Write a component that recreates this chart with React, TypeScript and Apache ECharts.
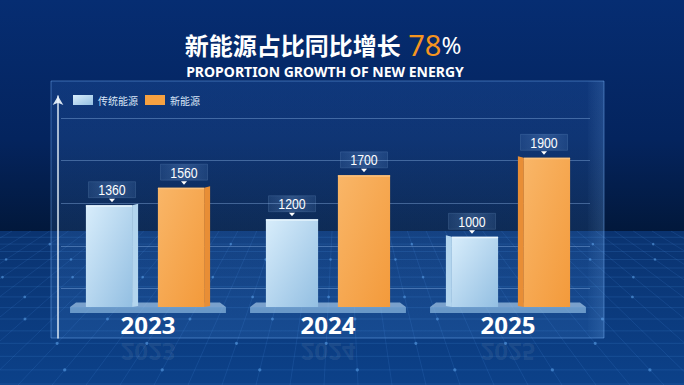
import React, { useEffect, useRef } from 'react';
import * as echarts from 'echarts';

// ---- data ----
const categories = ['2023', '2024', '2025'];
const seriesNames = ['传统能源', '新能源'];
const traditional = [1360, 1200, 1000];
const newEnergy = [1560, 1700, 1900];
const titleMain = '新能源占比同比增长';
const titleNumber = '78';
const titleUnit = '%';
const subtitle = 'PROPORTION GROWTH OF NEW ENERGY';

const Y_MIN = 200;
const Y_MAX = 2650;

const W = 684;
const H = 385;

const BLUE = {
  front: ['#d8edfb', '#93bfe2'],
  side: '#b3d5ee',
  top: '#e6f4fd',
};
const ORANGE = {
  front: ['#f9b668', '#f39a3b'],
  side: '#e88e36',
  top: '#fbc27e',
};

function barRender(si: number, pal: typeof BLUE) {
  return (params: any, api: any) => {
    const ci = api.value(0) as number;
    const v = api.value(1) as number;
    const top = api.coord([ci, v]);
    const base = api.coord([ci, Y_MIN]);
    const band = (api.size([1, 0]) as number[])[0];
    const barW = band * 0.29;
    const cx = base[0] + (si === 0 ? -1 : 1) * band * 0.2;
    const x0 = cx - barW / 2;
    const x1 = cx + barW / 2;
    const yT = top[1];
    const yB = base[1];
    const mid = (categories.length - 1) / 2;
    const side = ci < mid ? 1 : ci > mid ? -1 : 0;
    const d = 6;
    const children: any[] = [];
    let fx0 = x0;
    let fx1 = x1;
    if (side === 1) {
      fx1 = x1 - d;
      children.push({
        type: 'polygon',
        shape: { points: [[fx1, yT], [x1, yT - 1.5], [x1, yB - 1], [fx1, yB]] },
        style: { fill: pal.side },
      });
    } else if (side === -1) {
      fx0 = x0 + d;
      children.push({
        type: 'polygon',
        shape: { points: [[x0, yT - 1.5], [fx0, yT], [fx0, yB], [x0, yB - 1]] },
        style: { fill: pal.side },
      });
    }
    children.push({
      type: 'rect',
      shape: { x: fx0, y: yT, width: fx1 - fx0, height: yB - yT },
      style: {
        fill: new echarts.graphic.LinearGradient(0, 0, 1, 1, [
          { offset: 0, color: pal.front[0] },
          { offset: 1, color: pal.front[1] },
        ]),
      },
    });
    children.push({
      type: 'rect',
      shape: { x: fx0, y: yT, width: fx1 - fx0, height: 1.5 },
      style: { fill: pal.top },
    });
    // value label box
    const boxW = 47;
    const boxH = 16;
    const boxB = yT - 7.5;
    children.push({
      type: 'rect',
      shape: { x: cx - boxW / 2, y: boxB - boxH, width: boxW, height: boxH },
      style: {
        fill: new echarts.graphic.LinearGradient(0, 0, 1, 0, [
          { offset: 0, color: 'rgba(130,180,240,0.12)' },
          { offset: 0.5, color: 'rgba(150,195,250,0.24)' },
          { offset: 1, color: 'rgba(130,180,240,0.12)' },
        ]),
        stroke: 'rgba(170,210,255,0.14)',
        lineWidth: 1,
      },
    });
    children.push({
      type: 'text',
      x: cx,
      y: boxB - boxH / 2 + 0.5,
      scaleX: 0.82,
      style: {
        text: String(v),
        x: 0,
        y: 0,
        align: 'center',
        verticalAlign: 'middle',
        fill: '#ffffff',
        font: '15px "Liberation Sans", sans-serif',
      },
    });
    children.push({
      type: 'polygon',
      shape: { points: [[cx - 3, yT - 6.5], [cx + 3, yT - 6.5], [cx, yT - 3]] },
      style: { fill: '#ffffff' },
    });
    return { type: 'group', children };
  };
}

function platformRender(params: any, api: any) {
  const ci = api.value(0) as number;
  const base = api.coord([ci, Y_MIN]);
  const band = (api.size([1, 0]) as number[])[0];
  const hw = band * 0.433;
  const cx = base[0];
  const yB = base[1];
  return {
    type: 'group',
    children: [
      {
        type: 'polygon',
        shape: {
          points: [
            [cx - hw + 6, yB - 4.5],
            [cx + hw - 6, yB - 4.5],
            [cx + hw, yB],
            [cx - hw, yB],
          ],
        },
        style: { fill: 'rgba(190,222,247,0.6)' },
      },
      {
        type: 'rect',
        shape: { x: cx - hw, y: yB, width: hw * 2, height: 6 },
        style: { fill: 'rgba(150,195,232,0.65)' },
      },
      {
        type: 'text',
        x: cx,
        y: 352,
        scaleY: -1,
        style: {
          text: categories[ci],
          x: 0,
          y: 0,
          align: 'center',
          verticalAlign: 'middle',
          fill: 'rgba(255,255,255,0.08)',
          font: 'bold 24px "Noto Sans", sans-serif',
        },
      },
    ],
  };
}

function floorLines() {
  const els: any[] = [];
  const horizon = 231;
  const rows: number[] = [];
  for (let k = 1; k < 16; k++) {
    const y = horizon + 6 * k + 0.28 * k * k;
    if (y > H) break;
    rows.push(y);
    els.push({
      type: 'line',
      z: -9,
      shape: { x1: 0, y1: y, x2: W, y2: y },
      style: { stroke: 'rgba(90,160,245,0.16)', lineWidth: 1 },
    });
  }
  const vx = 342;
  const vy = 40;
  const t = (horizon - vy) / (H - vy);
  for (let xb = -900; xb <= 1600; xb += 34) {
    const xh = vx + (xb - vx) * t;
    els.push({
      type: 'line',
      z: -9,
      shape: { x1: xh, y1: horizon, x2: xb, y2: H },
      style: { stroke: 'rgba(90,160,245,0.13)', lineWidth: 1 },
    });
  }
  rows.forEach((y, ri) => {
    if (ri % 2 === 0) return;
    const s = (y - vy) / (H - vy);
    for (let xb = -900 + 34 * (ri % 4); xb <= 1600; xb += 102) {
      const x = vx + (xb - vx) * s;
      if (x < 0 || x > W) continue;
      els.push({
        type: 'circle',
        z: -8,
        shape: { cx: x, cy: y, r: 0.6 + s * 1.1 },
        style: { fill: 'rgba(110,185,255,0.45)' },
      });
    }
  });
  return els;
}

export default function App() {
  const ref = useRef<HTMLDivElement>(null);
  useEffect(() => {
    document.body.style.margin = '0';
    if (!ref.current) return;
    const chart = echarts.init(ref.current, null, { renderer: 'svg' });
    const option: any = {
      animation: false,
      backgroundColor: '#031c48',
      legend: {
        data: seriesNames,
        icon: 'rect',
        left: 68,
        top: 90,
        itemWidth: 20,
        itemHeight: 10,
        itemGap: 7,
        textStyle: { color: '#dbe7f7', fontSize: 10, fontFamily: '"Noto Sans CJK SC", sans-serif' },
      },
      grid: [
        { left: 58, right: W - 598, top: 92, bottom: H - 307 },
        { left: 61, right: W - 590, top: 118, bottom: H - 288.7 },
        { left: 58, right: W - 598, top: 96, bottom: H - 338 },
      ],
      xAxis: [
        {
          type: 'category',
          gridIndex: 0,
          data: categories,
          axisLine: { show: false },
          axisTick: { show: false },
          axisLabel: {
            color: '#ffffff',
            fontSize: 24,
            fontWeight: 'bold',
            fontFamily: '"Noto Sans", sans-serif',
            margin: 5,
          },
        },
        { type: 'value', gridIndex: 1, show: false, min: 0, max: 1 },
        { type: 'value', gridIndex: 2, show: false, min: 0, max: 1 },
      ],
      yAxis: [
        {
          type: 'value',
          gridIndex: 0,
          min: Y_MIN,
          max: Y_MAX,
          show: false,
        },
        {
          type: 'value',
          gridIndex: 1,
          min: 0,
          max: 4,
          interval: 1,
          axisLine: { show: false },
          axisTick: { show: false },
          axisLabel: { show: false },
          splitLine: { show: true, lineStyle: { color: 'rgba(150,190,240,0.38)', width: 1 } },
        },
        {
          type: 'value',
          gridIndex: 2,
          min: 0,
          max: 1,
          axisLine: {
            show: true,
            symbol: ['none', 'arrow'],
            symbolSize: [8, 9],
            lineStyle: { color: 'rgba(240,248,255,0.9)', width: 1.5 },
          },
          axisTick: { show: false },
          axisLabel: { show: false },
          splitLine: { show: false },
        },
      ],
      graphic: [
        {
          type: 'rect',
          z: -10,
          shape: { x: 0, y: 0, width: W, height: 232 },
          style: {
            fill: new echarts.graphic.LinearGradient(0, 0, 0, 1, [
              { offset: 0, color: '#062d72' },
              { offset: 0.6, color: '#04245e' },
              { offset: 1, color: '#02183b' },
            ]),
          },
        },
        {
          type: 'rect',
          z: -10,
          shape: { x: 0, y: 231, width: W, height: H - 231 },
          style: {
            fill: new echarts.graphic.LinearGradient(0, 0, 0, 1, [
              { offset: 0, color: '#0a3370' },
              { offset: 1, color: '#0c4189' },
            ]),
          },
        },
        ...floorLines(),
        {
          type: 'rect',
          z: -5,
          shape: { x: 51, y: 81, width: 553, height: 257 },
          style: {
            fill: new echarts.graphic.LinearGradient(0, 0, 0, 1, [
              { offset: 0, color: 'rgba(70,140,235,0.16)' },
              { offset: 1, color: 'rgba(90,160,240,0.14)' },
            ]),
            stroke: 'rgba(120,180,250,0.45)',
            lineWidth: 1,
          },
        },
        {
          type: 'rect',
          z: -4,
          shape: { x: 588, y: 81, width: 16, height: 257 },
          style: {
            fill: new echarts.graphic.LinearGradient(0, 0, 1, 0, [
              { offset: 0, color: 'rgba(140,195,255,0.02)' },
              { offset: 1, color: 'rgba(140,195,255,0.14)' },
            ]),
          },
        },
        {
          type: 'line',
          z: -4,
          shape: { x1: 51, y1: 81, x2: 604, y2: 81 },
          style: {
            stroke: new echarts.graphic.LinearGradient(0, 0, 1, 0, [
              { offset: 0, color: 'rgba(120,190,255,0.1)' },
              { offset: 0.5, color: 'rgba(150,210,255,0.9)' },
              { offset: 1, color: 'rgba(120,190,255,0.2)' },
            ]),
            lineWidth: 1.5,
          },
        },
        {
          type: 'text',
          z: 10,
          x: 323,
          y: 44,
          style: {
            text: `{a|${titleMain}}{b| ${titleNumber}}{c|${titleUnit}}`,
            align: 'center',
            verticalAlign: 'middle',
            rich: {
              a: {
                fill: '#ffffff',
                fontSize: 24,
                fontWeight: 'bold',
                lineHeight: 28,
                fontFamily: '"Noto Sans CJK SC", sans-serif',
              },
              b: {
                fill: '#f5951f',
                fontSize: 29,
                lineHeight: 28,
                fontFamily: '"Noto Sans", sans-serif',
              },
              c: {
                fill: '#ffffff',
                fontSize: 24,
                lineHeight: 28,
                fontFamily: '"Noto Sans", sans-serif',
              },
            },
          },
        },
        {
          type: 'text',
          z: 10,
          x: 325,
          y: 71,
          style: {
            text: subtitle,
            align: 'center',
            verticalAlign: 'middle',
            fill: '#ffffff',
            font: 'bold 14px "Noto Sans", "Open Sans", sans-serif',
          },
        },
      ],
      series: [
        {
          name: 'platform',
          type: 'custom',
          xAxisIndex: 0,
          yAxisIndex: 0,
          z: 2,
          silent: true,
          encode: { x: 0 },
          data: categories.map((_, i) => [i]),
          renderItem: platformRender,
        },
        {
          name: seriesNames[0],
          type: 'custom',
          xAxisIndex: 0,
          yAxisIndex: 0,
          z: 3,
          encode: { x: 0, y: 1 },
          itemStyle: {
            color: new echarts.graphic.LinearGradient(0, 0, 1, 1, [
              { offset: 0, color: BLUE.front[0] },
              { offset: 1, color: BLUE.front[1] },
            ]),
          },
          data: traditional.map((v, i) => [i, v]),
          renderItem: barRender(0, BLUE),
        },
        {
          name: seriesNames[1],
          type: 'custom',
          xAxisIndex: 0,
          yAxisIndex: 0,
          z: 3,
          encode: { x: 0, y: 1 },
          itemStyle: { color: '#f6a141' },
          data: newEnergy.map((v, i) => [i, v]),
          renderItem: barRender(1, ORANGE),
        },
      ],
    };
    chart.setOption(option);
    return () => chart.dispose();
  }, []);
  return <div ref={ref} style={{ width: W, height: H }} />;
}
